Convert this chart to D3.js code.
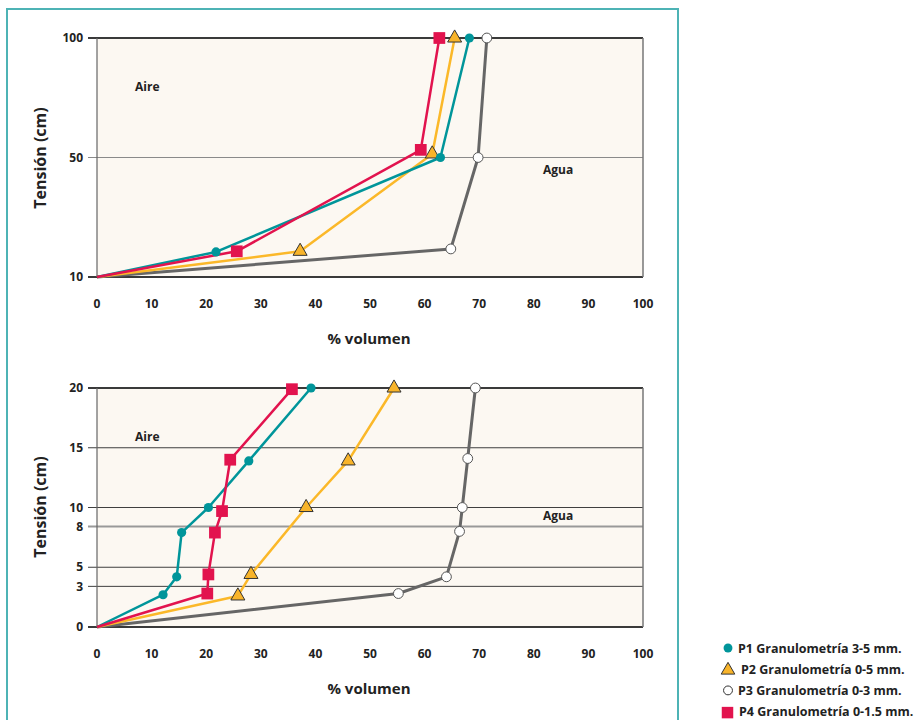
<!DOCTYPE html>
<html>
<head>
<meta charset="utf-8">
<script src="https://cdn.jsdelivr.net/npm/d3@7"></script>
<style>
  body { margin: 0; background: #fff; }
  svg { display: block; font-family: "Open Sans", sans-serif; }
  .tick-label { font-size: 12px; font-weight: 700; fill: #222; }
  .axis-title { font-size: 15px; font-weight: 700; fill: #222; }
  .zone { font-size: 12px; font-weight: 700; fill: #222; }
  .legend { font-size: 12.5px; font-weight: 700; fill: #222; }
</style>
</head>
<body>
<svg id="chart" width="916" height="720"></svg>
<script>
// shared x axis (% volumen)
const xTicks = [0, 10, 20, 30, 40, 50, 60, 70, 80, 90, 100];

// top chart: tension 10-100 cm, ticks evenly spaced
const topTicks = [10, 50, 100];
const topP1 = [[0, 10], [21.8, 18.4], [62.9, 50], [68.2, 100]];
const topP2 = [[0, 10], [37.2, 18.6], [61.4, 51.5], [65.5, 100]];
const topP3 = [[0, 10], [64.8, 19.4], [69.8, 50], [71.4, 100]];
const topP4 = [[0, 10], [25.6, 18.6], [59.3, 53.2], [62.7, 100]];

// bottom chart: tension 0-20 cm
const bottomTicks = [0, 3.4, 5, 8.4, 10, 15, 20];
const bottomTickLabels = ['0', '3', '5', '8', '10', '15', '20'];
const botP1 = [[0, 0], [12.1, 2.7], [14.6, 4.2], [15.5, 7.9], [20.4, 10], [27.8, 13.9], [39.2, 20]];
const botP2 = [[0, 0], [25.8, 2.6], [28.2, 4.4], [38.3, 10], [46, 13.9], [54.4, 20]];
const botP3 = [[0, 0], [55.2, 2.8], [64, 4.2], [66.4, 8], [66.9, 10], [67.9, 14.1], [69.3, 20]];
const botP4 = [[0, 0], [20.2, 2.8], [20.4, 4.4], [21.6, 7.9], [22.9, 9.7], [24.4, 14], [35.7, 19.9]];

const seriesNames = [
    'P1 Granulometría 3-5 mm.',
    'P2 Granulometría 0-5 mm.',
    'P3 Granulometría 0-3 mm.',
    'P4 Granulometría 0-1.5 mm.'
];

const PLOT_LEFT   = 97;
const PLOT_RIGHT  = 643;
const FRAME_COLOR = '#4db3b5';

// styles per series: P1 teal dot, P2 yellow triangle, P3 open circle, P4 red square
const STYLES = [
    { line: '#00959a', fill: '#00959a', stroke: 'none', symbol: d3.symbolCircle,   size: 66,  width: 2.5 },
    { line: '#fbb829', fill: '#f8b42a', stroke: '#333', symbol: d3.symbolTriangle, size: 85,  width: 2.5 },
    { line: '#666666', fill: '#ffffff', stroke: '#555', symbol: d3.symbolCircle,   size: 76,  width: 3 },
    { line: '#e2134e', fill: '#e2134e', stroke: 'none', symbol: d3.symbolSquare,   size: 138, width: 2.5 }
];
const DRAW_ORDER = [2, 1, 0, 3];

const svg = d3.select('#chart');

// teal frame round the two charts (bottom edge is off the page)
svg.append('path')
    .attr('d', `M7,730 V9 H678 V730`)
    .attr('fill', 'none')
    .attr('stroke', FRAME_COLOR)
    .attr('stroke-width', 2);

const x = d3.scaleLinear().domain([0, 100]).range([PLOT_LEFT, PLOT_RIGHT]);

/**
 * Draw one panel: background, grid, axes, titles and the four series.
 */
function drawPanel (opts) {
    const { y, ticks, labels, top, bottom, series, gridStyle, aire, agua, titleY } = opts;
    const g = svg.append('g');

    g.append('rect')
        .attr('x', PLOT_LEFT)
        .attr('y', top)
        .attr('width', PLOT_RIGHT - PLOT_LEFT)
        .attr('height', bottom - top)
        .attr('fill', '#fcf8f2');

    // grid lines with their tick marks to the left
    ticks.forEach((t, i) => {
        const st = gridStyle(t, i);
        g.append('line')
            .attr('x1', PLOT_LEFT - 9)
            .attr('x2', PLOT_RIGHT)
            .attr('y1', y(t))
            .attr('y2', y(t))
            .attr('stroke', st.color)
            .attr('stroke-width', st.width);
        g.append('text')
            .attr('class', 'tick-label')
            .attr('x', PLOT_LEFT - 14)
            .attr('y', y(t))
            .attr('dy', '0.35em')
            .attr('text-anchor', 'end')
            .text(labels[i]);
    });

    // side borders
    g.append('line')
        .attr('x1', PLOT_LEFT).attr('x2', PLOT_LEFT)
        .attr('y1', top).attr('y2', bottom)
        .attr('stroke', '#666').attr('stroke-width', 1.2);
    g.append('line')
        .attr('x1', PLOT_RIGHT).attr('x2', PLOT_RIGHT)
        .attr('y1', top).attr('y2', bottom)
        .attr('stroke', '#777').attr('stroke-width', 1.5);

    // x tick labels
    g.selectAll('.xlab')
        .data(xTicks)
        .join('text')
        .attr('class', 'tick-label')
        .attr('x', d => x(d))
        .attr('y', bottom + 31)
        .attr('text-anchor', 'middle')
        .text(d => d);

    g.append('text')
        .attr('class', 'axis-title')
        .attr('x', (PLOT_LEFT + PLOT_RIGHT) / 2 - 1)
        .attr('y', bottom + 67)
        .attr('text-anchor', 'middle')
        .text('% volumen');

    g.append('text')
        .attr('class', 'axis-title')
        .attr('transform', `translate(46,${titleY}) rotate(-90)`)
        .attr('text-anchor', 'middle')
        .style('font-size', '16px')
        .text('Tensión (cm)');

    g.append('text').attr('class', 'zone')
        .attr('x', 135).attr('y', aire).text('Aire');
    g.append('text').attr('class', 'zone')
        .attr('x', 543).attr('y', agua).text('Agua');

    const line = d3.line()
        .x(d => x(d[0]))
        .y(d => y(d[1]));

    DRAW_ORDER.forEach(i => {
        g.append('path')
            .datum(series[i])
            .attr('d', line)
            .attr('fill', 'none')
            .attr('stroke', STYLES[i].line)
            .attr('stroke-width', STYLES[i].width)
            .attr('stroke-linejoin', 'round');
    });

    DRAW_ORDER.forEach(i => {
        const st = STYLES[i];
        g.selectAll(null)
            .data(series[i].slice(1))
            .join('path')
            .attr('d', d3.symbol().type(st.symbol).size(st.size))
            .attr('transform', d => `translate(${x(d[0])},${y(d[1])})`)
            .attr('fill', st.fill)
            .attr('stroke', st.stroke)
            .attr('stroke-width', 1);
    });
}

// top panel: ticks spread evenly over the height
const TOP_TOP = 38, TOP_BOTTOM = 277;
const yTop = d3.scaleLinear()
    .domain(topTicks)
    .range(topTicks.map((d, i) => TOP_BOTTOM - i * (TOP_BOTTOM - TOP_TOP) / (topTicks.length - 1)));

drawPanel({
    y: yTop,
    ticks: topTicks,
    labels: topTicks.map(String),
    top: TOP_TOP,
    bottom: TOP_BOTTOM,
    series: [topP1, topP2, topP3, topP4],
    gridStyle: (t, i) => (i === 0 || i === topTicks.length - 1)
        ? { color: '#3a3a3a', width: 2 }
        : { color: '#8a8a8a', width: 1 },
    aire: 91,
    agua: 174,
    titleY: 158
});

const BOT_TOP = 388, BOT_BOTTOM = 627;
const yBot = d3.scaleLinear().domain([0, 20]).range([BOT_BOTTOM, BOT_TOP]);

drawPanel({
    y: yBot,
    ticks: bottomTicks,
    labels: bottomTickLabels,
    top: BOT_TOP,
    bottom: BOT_BOTTOM,
    series: [botP1, botP2, botP3, botP4],
    gridStyle: (t, i) => {
        if (i === 0 || i === bottomTicks.length - 1) return { color: '#3a3a3a', width: 2 };
        if (bottomTickLabels[i] === '8') return { color: '#999', width: 2 };
        return { color: '#3f3f3f', width: 1 };
    },
    aire: 441,
    agua: 520,
    titleY: 507
});

// legend
const legend = svg.append('g').attr('transform', 'translate(728,648)');
const LEGEND_SIZES = [62, 80, 62, 132];
const LEGEND_TEXT_X = [10, 13, 10, 11];
seriesNames.forEach((name, i) => {
    const st = STYLES[i];
    const row = legend.append('g').attr('transform', `translate(0,${i * 21.2})`);
    row.append('path')
        .attr('d', d3.symbol().type(st.symbol).size(LEGEND_SIZES[i]))
        .attr('transform', i === 3 ? 'translate(-0.5,1)' : (i === 1 ? 'translate(0,1)' : null))
        .attr('fill', st.fill)
        .attr('stroke', i === 2 ? '#333' : st.stroke)
        .attr('stroke-width', 1);
    row.append('text')
        .attr('class', 'legend')
        .attr('x', LEGEND_TEXT_X[i])
        .attr('dy', '0.36em')
        .text(name);
});
</script>
</body>
</html>
